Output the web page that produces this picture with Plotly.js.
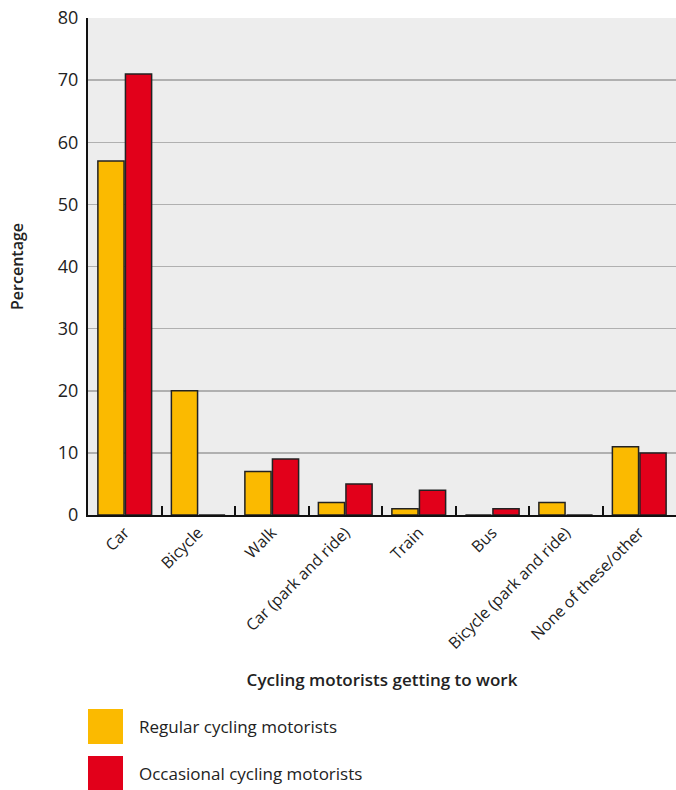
<!DOCTYPE html>
<html><head><meta charset="utf-8">
<script src="https://cdn.plot.ly/plotly-3.0.1.min.js"></script>
<style>body{margin:0;background:#fff}#c{width:676px;height:790px}</style>
</head><body><div id="c"></div>
<script>
const categories = ["Car","Bicycle","Walk","Car (park and ride)","Train","Bus","Bicycle (park and ride)","None of these/other"];
const regular = [57,20,7,2,1,0,2,11];
const occasional = [71,0,9,5,4,1,0,10];
const seriesNames = ["Regular cycling motorists","Occasional cycling motorists"];
const colors = ["#FBBA00","#E2001A"];
const yTicks = [0,10,20,30,40,50,60,70,80];

const font = "Open Sans, Lato, sans-serif";
const traces = [regular, occasional].map((v,i)=>({
  type:"bar", x:categories, y:v, name:seriesNames[i],
  marker:{color:colors[i], line:{color:"#222", width:1.5}},
  showlegend:false, hoverinfo:"none"
}));

const shapes = [];
const annotations = [];
seriesNames.forEach((n,i)=>{
  const top = 709 + 47*i, bot = top + 35;
  shapes.push({type:"rect", xref:"paper", yref:"paper",
    x0:0, x1:35/588, y0:(515-bot)/497, y1:(515-top)/497,
    fillcolor:colors[i], line:{width:0}});
  annotations.push({xref:"paper", yref:"paper", x:49/588, y:(515-(top+17.5))/497,
    xanchor:"left", yanchor:"middle", showarrow:false, text:n,
    font:{family:font, size:17, color:"#222"}});
});

const layout = {
  width:676, height:790,
  margin:{l:88, r:0, t:18, b:275},
  paper_bgcolor:"#ffffff", plot_bgcolor:"#ededed",
  barmode:"group", bargap:0.25, bargroupgap:0.05,
  font:{family:font, color:"#222"},
  xaxis:{
    showline:true, linecolor:"#111", linewidth:2,
    ticks:"inside", tickson:"boundaries", ticklen:9, tickwidth:2, tickcolor:"#111",
    tickangle:-45, tickfont:{size:16, family:font, color:"#222"},
    title:{text:"Cycling motorists getting to work", font:{size:17, weight:600, family:font, color:"#222"}, standoff:22},
    fixedrange:true
  },
  yaxis:{
    range:[0,80], tickvals:yTicks, showline:true, linecolor:"#111", linewidth:2,
    showgrid:true, gridcolor:"#b0b0b0", gridwidth:1.5, zeroline:false,
    ticks:"", tickfont:{size:18, family:font, color:"#222"}, ticklabelstandoff:4,
    title:{text:"Percentage", font:{size:16, weight:600, family:font, color:"#222"}, standoff:30},
    fixedrange:true
  },
  shapes:shapes, annotations:annotations
};
Plotly.newPlot("c", traces, layout, {displayModeBar:false, staticPlot:true});
</script></body></html>
